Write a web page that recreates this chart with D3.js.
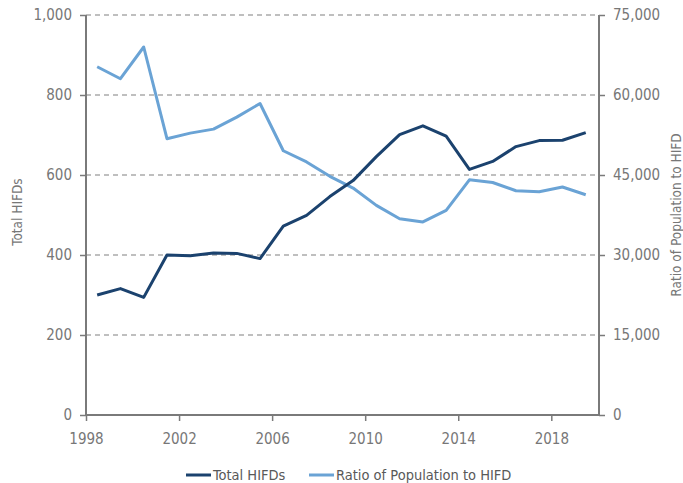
<!DOCTYPE html>
<html>
<head>
<meta charset="utf-8">
<script src="https://cdn.jsdelivr.net/npm/d3@7"></script>
<style>
  body { margin: 0; background: #fff; }
  text { font-family: "DejaVu Sans Condensed", "Liberation Sans Narrow", sans-serif; }
</style>
</head>
<body>
<div id="chart"></div>
<script>
// data
var years = [1998, 1999, 2000, 2001, 2002, 2003, 2004, 2005, 2006, 2007, 2008,
             2009, 2010, 2011, 2012, 2013, 2014, 2015, 2016, 2017, 2018, 2019];
var totalHIFDs = [300, 316, 294, 400, 398, 405, 404, 391, 472, 499, 546,
                  586, 646, 701, 723, 697, 614, 634, 671, 686, 687, 706];
var popRatio = [65300, 63050, 69000, 51800, 52850, 53600, 55850, 58400, 49550, 47450, 44750,
                42550, 39300, 36800, 36200, 38350, 44100, 43600, 42050, 41850, 42750, 41300];
var xTicks = [1998, 2002, 2006, 2010, 2014, 2018];
var leftTicks = [0, 200, 400, 600, 800, 1000];
var rightTicks = [0, 15000, 30000, 45000, 60000, 75000];
var seriesNames = ["Total HIFDs", "Ratio of Population to HIFD"];

var W = 683, H = 483;
var margin = {top: 15, right: 84, bottom: 68, left: 86};
var darkBlue = "#1b426e", lightBlue = "#6aa3d5", grey = "#7a7a7a";

var svg = d3.select("#chart").append("svg")
    .attr("width", W).attr("height", H);

var x = d3.scaleLinear().domain([1998, 2020.05]).range([margin.left, W - margin.right]);
var yL = d3.scaleLinear().domain([0, 1000]).range([H - margin.bottom, margin.top]);
var yR = d3.scaleLinear().domain([0, 75000]).range([H - margin.bottom, margin.top]);

// gridlines
svg.append("g").selectAll("line")
  .data(leftTicks.filter(function(d) { return d > 0; }))
  .enter().append("line")
    .attr("x1", margin.left).attr("x2", W - margin.right)
    .attr("y1", function(d) { return yL(d); }).attr("y2", function(d) { return yL(d); })
    .attr("stroke", "#808080").attr("stroke-width", 1.2)
    .attr("stroke-dasharray", "5,4");

var fmt = d3.format(",");

// left axis
var gl = svg.append("g")
    .attr("transform", "translate(" + margin.left + ",0)")
    .call(d3.axisLeft(yL).tickValues(leftTicks).tickFormat(fmt).tickSize(6).tickPadding(8));
// right axis
var gr = svg.append("g")
    .attr("transform", "translate(" + (W - margin.right) + ",0)")
    .call(d3.axisRight(yR).tickValues(rightTicks).tickFormat(fmt).tickSize(6).tickPadding(8));
// bottom axis
var gb = svg.append("g")
    .attr("transform", "translate(0," + (H - margin.bottom) + ")")
    .call(d3.axisBottom(x).tickValues(xTicks).tickFormat(d3.format("d")).tickSize(6).tickPadding(8));

[gl, gr, gb].forEach(function(g) {
  g.select(".domain").attr("stroke", grey).attr("stroke-width", 2);
  g.selectAll(".tick line").attr("stroke", grey).attr("stroke-width", 1.5);
  g.selectAll(".tick text").attr("fill", "#777").style("font-size", "15px");
});
gb.select(".domain").attr("d", "M" + margin.left + ",0H" + (W - margin.right));
gl.select(".domain").attr("d", "M0," + yL(0) + "V" + yL(1000));
gr.select(".domain").attr("d", "M0," + yR(0) + "V" + yR(75000));
gb.selectAll(".tick text").attr("dy", "1em");

// axis titles
svg.append("text")
    .attr("transform", "translate(17,212) rotate(-90)")
    .attr("text-anchor", "middle").attr("dy", "0.35em")
    .attr("fill", "#777").style("font-size", "13.5px")
    .text("Total HIFDs");
svg.append("text")
    .attr("transform", "translate(676,215) rotate(-90)")
    .attr("text-anchor", "middle").attr("dy", "0.35em")
    .attr("fill", "#777").style("font-size", "13.5px")
    .text("Ratio of Population to HIFD");

// lines
var xm = function(i) { return x(years[i] + 0.48); };
var lineL = d3.line().x(function(d, i) { return xm(i); }).y(function(d) { return yL(d); });
var lineR = d3.line().x(function(d, i) { return xm(i); }).y(function(d) { return yR(d); });

svg.append("path").datum(popRatio)
    .attr("fill", "none").attr("stroke", lightBlue).attr("stroke-width", 3)
    .attr("stroke-linejoin", "round").attr("d", lineR);
svg.append("path").datum(totalHIFDs)
    .attr("fill", "none").attr("stroke", darkBlue).attr("stroke-width", 3)
    .attr("stroke-linejoin", "round").attr("d", lineL);

// legend
var legX = [186, 309];
var legend = svg.append("g").selectAll("g")
  .data(seriesNames).enter().append("g")
    .attr("transform", function(d, i) { return "translate(" + legX[i] + ",475)"; });
legend.append("line")
    .attr("x1", 0).attr("x2", 25).attr("y1", 0).attr("y2", 0)
    .attr("stroke", function(d, i) { return i == 0 ? darkBlue : lightBlue; })
    .attr("stroke-width", 3);
legend.append("text")
    .attr("x", 27).attr("y", 0).attr("dy", "0.36em")
    .attr("fill", "#595959").style("font-size", "14.5px")
    .text(function(d) { return d; });
</script>
</body>
</html>
